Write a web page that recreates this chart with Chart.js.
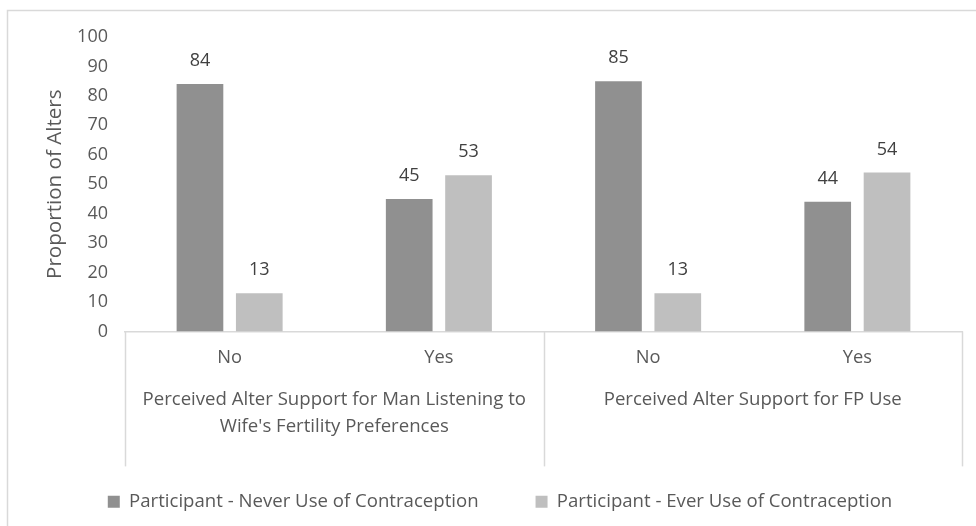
<!DOCTYPE html>
<html>
<head>
<meta charset="utf-8">
<script src="https://cdn.jsdelivr.net/npm/chart.js@4"></script>
<style>
  html, body { margin: 0; padding: 0; background: #ffffff; }
  #wrap { position: relative; width: 976px; height: 526px; }
</style>
</head>
<body>
<div id="wrap"><canvas id="chart" width="976" height="526"></canvas></div>
<script>
// Sub-categories (answer) and the two question groups they belong to
const answers = ['No', 'Yes', 'No', 'Yes'];
const groups = [
  ['Perceived Alter Support for Man Listening to', "Wife's Fertility Preferences"],
  'Perceived Alter Support for FP Use'
];
const seriesNames = [
  'Participant - Never Use of Contraception',
  'Participant - Ever Use of Contraception'
];
const neverUse = [84, 45, 85, 44];
const everUse = [13, 53, 13, 54];
const yTicks = [0, 10, 20, 30, 40, 50, 60, 70, 80, 90, 100];

const FONT = '"Open Sans", "Liberation Sans", sans-serif';
const TEXT = '#595959';
const LINE = '#d9d9d9';

// Outer frame of the figure
const framePlugin = {
  id: 'frame',
  beforeDraw(chart) {
    const ctx = chart.ctx;
    ctx.save();
    ctx.strokeStyle = LINE;
    ctx.lineWidth = 1.5;
    ctx.strokeRect(7.5, 10.5, chart.width + 20, chart.height + 20);
    ctx.restore();
  }
};

// Pull the legend row a little closer to the group labels
const legendNudge = {
  id: 'legendNudge',
  afterLayout(chart) {
    const lg = chart.legend;
    if (lg) { lg.top -= 5; lg.bottom -= 5; }
  }
};

// Vertical separators between the two question groups
const dividerPlugin = {
  id: 'dividers',
  afterDraw(chart) {
    const x = chart.scales.x;
    const area = chart.chartArea;
    const half = (x.getPixelForValue(1) - x.getPixelForValue(0)) / 2;
    const xs = [
      x.getPixelForValue(0) - half,
      (x.getPixelForValue(1) + x.getPixelForValue(2)) / 2,
      x.getPixelForValue(3) + half
    ];
    const ctx = chart.ctx;
    ctx.save();
    ctx.strokeStyle = LINE;
    ctx.lineWidth = 1.5;
    xs.forEach(px => {
      ctx.beginPath();
      ctx.moveTo(Math.round(px) + 0.5, area.bottom);
      ctx.lineTo(Math.round(px) + 0.5, area.bottom + 135);
      ctx.stroke();
    });
    ctx.restore();
  }
};

// Value labels above each bar
const valueLabelPlugin = {
  id: 'valueLabels',
  afterDatasetsDraw(chart) {
    const ctx = chart.ctx;
    ctx.save();
    ctx.font = '18px ' + FONT;
    ctx.fillStyle = '#404040';
    ctx.textAlign = 'center';
    ctx.textBaseline = 'middle';
    chart.data.datasets.forEach((ds, i) => {
      chart.getDatasetMeta(i).data.forEach((bar, j) => {
        ctx.fillText(String(ds.data[j]), bar.x, bar.y - 23);
      });
    });
    ctx.restore();
  }
};

new Chart(document.getElementById('chart'), {
  type: 'bar',
  data: {
    labels: answers,
    datasets: [
      { label: seriesNames[0], data: neverUse, backgroundColor: '#909090', xAxisID: 'x' },
      { label: seriesNames[1], data: everUse, backgroundColor: '#bfbfbf', xAxisID: 'x' }
    ]
  },
  options: {
    responsive: false,
    animation: false,
    events: [],
    categoryPercentage: 0.567,
    barPercentage: 0.787,
    layout: { padding: { left: 38, right: 14, top: 37, bottom: 0 } },
    plugins: {
      tooltip: { enabled: false },
      legend: {
        position: 'bottom',
        labels: {
          boxWidth: 12,
          boxHeight: 12,
          padding: 57,
          color: TEXT,
          font: { family: FONT, size: 18.6 }
        }
      }
    },
    scales: {
      y: {
        min: 0,
        max: 100,
        afterBuildTicks(scale) { scale.ticks = yTicks.map(v => ({ value: v })); },
        afterFit(scale) { scale.width = 87; },
        grid: { display: false, drawTicks: false },
        border: { display: false },
        ticks: { padding: 17, color: TEXT, font: { family: FONT, size: 18 } },
        title: {
          display: true,
          text: 'Proportion of Alters',
          color: TEXT,
          padding: { top: 5, bottom: 0 },
          font: { family: FONT, size: 20.6 }
        }
      },
      x: {
        weight: 0,
        afterFit(scale) { scale.height = 49; },
        grid: { display: false, drawTicks: false },
        border: { display: true, color: LINE, width: 1.5 },
        ticks: { padding: 15, color: TEXT, font: { family: FONT, size: 18.3 } }
      },
      x2: {
        type: 'category',
        position: 'bottom',
        weight: 1,
        labels: groups,
        afterFit(scale) { scale.height = 60; },
        grid: { display: false, drawTicks: false },
        border: { display: false },
        ticks: {
          padding: 6,
          color: TEXT,
          font: { family: FONT, size: 18.6, lineHeight: 1.45 }
        }
      }
    }
  },
  plugins: [framePlugin, legendNudge, dividerPlugin, valueLabelPlugin]
});
</script>
</body>
</html>
